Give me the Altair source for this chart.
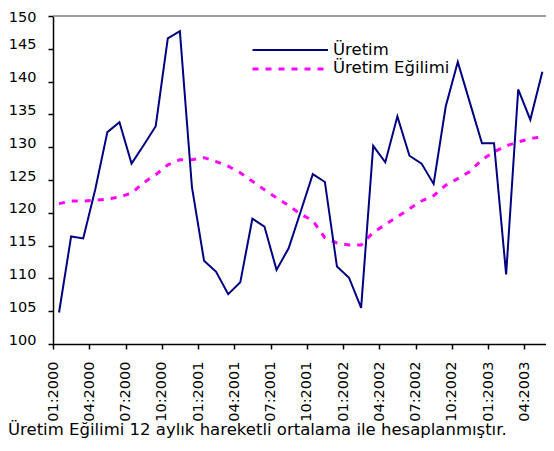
import json
import altair as alt
import pandas as pd

FONT = "DejaVu Sans"

tick_labels = ["01:2000", "04:2000", "07:2000", "10:2000",
               "01:2001", "04:2001", "07:2001", "10:2001",
               "01:2002", "04:2002", "07:2002", "10:2002",
               "01:2003", "04:2003"]
month_index = list(range(41))
uretim = [104.8, 116.4, 116.1, 123.6, 132.3, 133.8, 127.5, 130.3, 133.2, 146.6,
          147.7, 123.9, 112.7, 111.0, 107.6, 109.4, 119.1, 117.9, 111.3, 114.6,
          120.2, 125.9, 124.7, 111.8, 110.1, 105.5, 130.2, 127.7, 134.7, 128.7,
          127.5, 124.4, 136.2, 143.0, 136.8, 130.6, 130.6, 110.6, 138.8, 134.2,
          141.5]
egilim = [121.4, 121.8, 121.8, 121.9, 122.1, 122.4, 123.0, 124.6, 125.8, 127.3,
          128.1, 128.1, 128.4, 127.8, 127.1, 126.1, 124.8, 123.5, 122.3, 121.1,
          119.8, 118.8, 116.2, 115.4, 115.1, 115.1, 117.0, 118.2, 119.4, 120.6,
          121.8, 122.6, 124.2, 125.2, 126.3, 128.1, 129.3, 130.2, 130.8, 131.3,
          131.6]
series_names = ["Üretim", "Üretim Eğilimi"]
footnote = "Üretim Eğilimi 12 aylık hareketli ortalama ile hesaplanmıştır."
y_ticks = [100, 105, 110, 115, 120, 125, 130, 135, 140, 145, 150]

df = pd.DataFrame({"i": month_index, "uretim": uretim, "egilim": egilim})
one = pd.DataFrame({"k": [0]})

tick_values = [-0.5 + 3 * k for k in range(len(tick_labels))]
label_expr = json.dumps(tick_labels) + "[round((datum.value + 0.5) / 3)]"

x_scale = alt.Scale(domain=[-0.5, 40.3], nice=False, zero=False)
y_scale = alt.Scale(domain=[100, 150], nice=False, zero=False)

x_axis = alt.Axis(values=tick_values, labelExpr=label_expr, labelAngle=270,
                  title=None, grid=False, tickSize=5, labelPadding=12,
                  labelFontSize=14.5, labelFont=FONT, labelColor="black",
                  domainColor="black", tickColor="black", domainWidth=1.5,
                  tickWidth=1.5, labelFlush=False, labelOverlap=False)
y_axis = alt.Axis(values=y_ticks, title=None, grid=False, tickSize=5,
                  labelPadding=12, labelFontSize=14.5, labelFont=FONT,
                  labelColor="black",
                  labelOffset={"condition": {"test": "datum.value >= 150", "value": 1},
                               "value": -4},
                  domainColor="black", tickColor="black", domainWidth=1.5,
                  tickWidth=1.5)

top_line = alt.Chart(one).mark_rule(color="#808080", strokeWidth=1.5).encode(
    y=alt.datum(150, scale=y_scale, axis=y_axis)
)

trend = alt.Chart(df).mark_line(color="#FF00FF", strokeWidth=3,
                                strokeDash=[6, 7]).encode(
    x=alt.X("i:Q", scale=x_scale, axis=x_axis),
    y=alt.Y("egilim:Q", scale=y_scale, axis=y_axis),
)
prod = alt.Chart(df).mark_line(color="#000080", strokeWidth=2).encode(
    x=alt.X("i:Q", scale=x_scale, axis=x_axis),
    y=alt.Y("uretim:Q", scale=y_scale, axis=y_axis),
)

leg_rule1 = alt.Chart(one).mark_rule(color="#000080", strokeWidth=2).encode(
    x=alt.value(199.5), x2=alt.value(275), y=alt.value(34))
leg_rule2 = alt.Chart(one).mark_rule(color="#FF00FF", strokeWidth=3,
                                     strokeDash=[6, 7]).encode(
    x=alt.value(199.5), x2=alt.value(275), y=alt.value(53))
leg_text1 = alt.Chart(one).mark_text(align="left", baseline="alphabetic",
                                     font=FONT, fontSize=16.5, color="black").encode(
    x=alt.value(280), y=alt.value(38.5), text=alt.value(series_names[0]))
leg_text2 = alt.Chart(one).mark_text(align="left", baseline="alphabetic",
                                     font=FONT, fontSize=16.5, color="black").encode(
    x=alt.value(280), y=alt.value(57), text=alt.value(series_names[1]))
note = alt.Chart(one).mark_text(align="left", baseline="alphabetic",
                                font=FONT, fontSize=16.5, color="black").encode(
    x=alt.value(-45), y=alt.value(419), text=alt.value(footnote))

chart = alt.layer(top_line, trend, prod, leg_rule1, leg_rule2, leg_text1,
                  leg_text2, note).properties(
    width=493, height=328,
    padding={"left": 45, "top": 8, "right": 0, "bottom": 95},
    autosize=alt.AutoSizeParams(type="none"),
    background="white",
).configure_view(stroke=None)

chart.save("out.html", embed_options={"renderer": "svg", "actions": False})
